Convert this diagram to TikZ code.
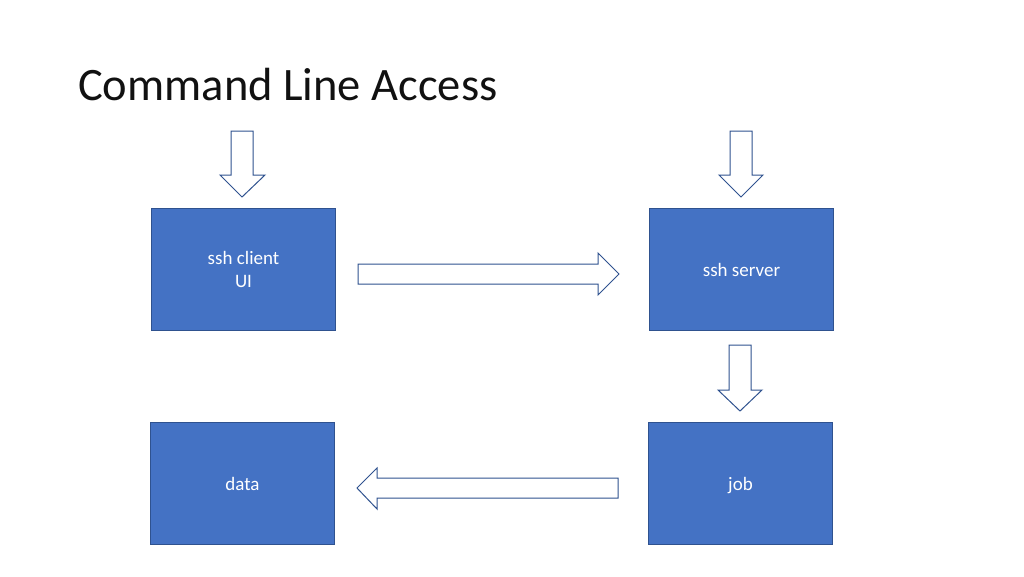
\documentclass[tikz,border=0pt]{standalone}
\usepackage{fontspec}
\setmainfont{Carlito}
\definecolor{boxblue}{HTML}{4472C4}
\definecolor{edgeblue}{HTML}{2F528F}
\definecolor{titlegray}{HTML}{111111}
\begin{document}
\begin{tikzpicture}[x=1pt,y=-1pt,
  box/.style={draw=edgeblue,line width=1pt,fill=boxblue,text=white,
    minimum width=184pt,minimum height=122pt,inner sep=0pt,anchor=north west,
    text depth=0pt,
    font=\fontsize{19}{23.5}\selectfont,align=center},
  blockarrow/.style={draw=edgeblue,line width=1pt,fill=white,line join=miter}]
\useasboundingbox (0,0) rectangle (1024,576);
\node[anchor=base west,inner sep=0pt,text=titlegray,font=\fontsize{46.5}{56}\selectfont] (title) at (78,100) {Command Line Access};
\node[box] (client) at (151,208) {ssh client\\UI};
\node[box] (server) at (649,208) {ssh server};
\node[box] (data) at (150,422) {data};
\node[box] (job) at (648,422) {job};
% block arrows
\draw[blockarrow] (231,131) -- (253,131) -- (253,175) -- (265,175) -- (242,197) -- (220,175) -- (231,175) -- cycle;
\draw[blockarrow] (730,131) -- (752,131) -- (752,175) -- (763,175) -- (741,197) -- (719,175) -- (730,175) -- cycle;
\draw[blockarrow] (729,345) -- (751,345) -- (751,390) -- (762,390) -- (740,411) -- (718,390) -- (729,390) -- cycle;
\draw[blockarrow] (358,264) -- (598,264) -- (598,253) -- (619,274) -- (598,295) -- (598,284) -- (358,284) -- cycle;
\draw[blockarrow] (618,478) -- (377,478) -- (377,468) -- (357,488) -- (377,509) -- (377,498) -- (618,498) -- cycle;
\end{tikzpicture}
\end{document}
